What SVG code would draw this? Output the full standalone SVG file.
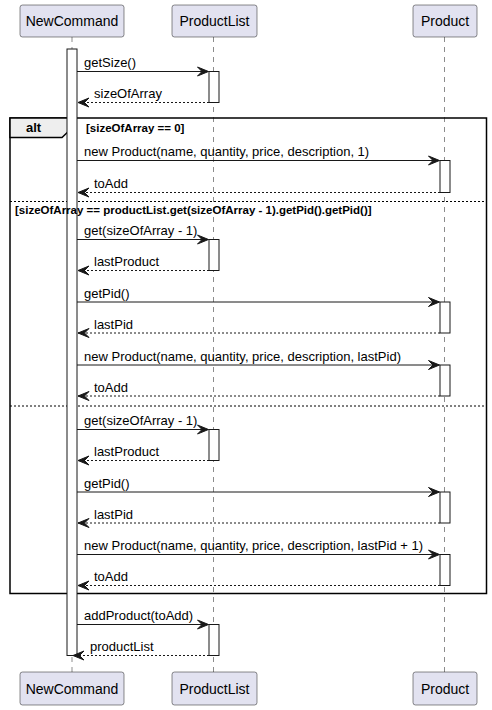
<svg xmlns="http://www.w3.org/2000/svg" width="492" height="710" viewBox="0 0 492 710">
<style>
.part{fill:#E2E2F0;stroke:#181818;stroke-width:0.5}
.ptxt{font-family:"Liberation Sans",Arial,sans-serif;font-size:14px;fill:#000}
.life{stroke:#181818;stroke-width:0.5;stroke-dasharray:5,5;fill:none}
.act{fill:#FFFFFF;stroke:#181818;stroke-width:1}
.msg{stroke:#181818;stroke-width:1;fill:none;marker-end:url(#ah)}
.ret{stroke:#181818;stroke-width:1;fill:none;stroke-dasharray:2,2;marker-end:url(#ah)}
.mtxt{font-family:"Liberation Sans",Arial,sans-serif;font-size:13px;fill:#000}
.frame{fill:none;stroke:#000;stroke-width:1.5}
.sep{stroke:#000;stroke-width:1;stroke-dasharray:2,2}
.btxt{font-family:"Liberation Sans",Arial,sans-serif;font-size:11.5px;font-weight:bold;fill:#000}
</style>
<defs>
<marker id="ah" viewBox="-1 -1 13 11" refX="11" refY="4.5" markerWidth="13" markerHeight="11" markerUnits="userSpaceOnUse" orient="auto">
<path d="M0,0 L11,4.5 L0,9 L4.5,4.5 Z" fill="#181818" stroke="#181818" stroke-width="1" stroke-linejoin="miter"/>
</marker>
</defs>
<g id="lifelines">
<line class="life" x1="72" y1="37" x2="72" y2="672"/>
<line class="life" x1="213.5" y1="37" x2="213.5" y2="672"/>
<line class="life" x1="444.5" y1="37" x2="444.5" y2="672"/>
</g>
<g id="alt-frame">
<rect class="frame" x="10" y="118" width="476.5" height="475.5"/>
<path d="M10,118 L72,118 L72,128 L62,137.5 L10,137.5 Z" fill="#EEEEEE" stroke="#000" stroke-width="1.5"/>
<text class="btxt" x="26" y="132" style="font-size:13px">alt</text>
<line class="sep" x1="10" y1="201.5" x2="486.5" y2="201.5"/>
<line class="sep" x1="10" y1="406" x2="486.5" y2="406"/>
</g>
<g id="activations">
<rect class="act" x="67" y="49" width="10" height="606.5"/>
<rect class="act" x="209" y="71.5" width="10" height="31"/>
<rect class="act" x="440" y="160.5" width="10" height="32"/>
<rect class="act" x="209" y="239.5" width="10" height="31"/>
<rect class="act" x="440" y="302" width="10" height="31"/>
<rect class="act" x="440" y="365" width="10" height="31"/>
<rect class="act" x="209" y="429.5" width="10" height="31"/>
<rect class="act" x="440" y="492" width="10" height="31"/>
<rect class="act" x="440" y="554.5" width="10" height="31"/>
<rect class="act" x="209" y="624.5" width="10" height="31"/>
</g>
<g id="alt-guards">
<text class="btxt" x="86" y="132">[sizeOfArray == 0]</text>
<text class="btxt" x="15" y="214">[sizeOfArray == productList.get(sizeOfArray - 1).getPid().getPid()]</text>
</g>
<g id="connectors">
<line class="msg" x1="77" y1="71.5" x2="208.5" y2="71.5"/>
<text class="mtxt" x="84" y="67">getSize()</text>
<line class="ret" x1="209" y1="102.5" x2="78" y2="102.5"/>
<text class="mtxt" x="94" y="98">sizeOfArray</text>
<line class="msg" x1="77" y1="160.5" x2="439.5" y2="160.5"/>
<text class="mtxt" x="84" y="156">new Product(name, quantity, price, description, 1)</text>
<line class="ret" x1="440" y1="192.5" x2="78" y2="192.5"/>
<text class="mtxt" x="94" y="188">toAdd</text>
<line class="msg" x1="77" y1="239.5" x2="208.5" y2="239.5"/>
<text class="mtxt" x="84" y="235">get(sizeOfArray - 1)</text>
<line class="ret" x1="209" y1="270.5" x2="78" y2="270.5"/>
<text class="mtxt" x="94" y="266">lastProduct</text>
<line class="msg" x1="77" y1="302" x2="439.5" y2="302"/>
<text class="mtxt" x="84" y="297.5">getPid()</text>
<line class="ret" x1="440" y1="333" x2="78" y2="333"/>
<text class="mtxt" x="94" y="328.5">lastPid</text>
<line class="msg" x1="77" y1="365" x2="439.5" y2="365"/>
<text class="mtxt" x="84" y="360.5">new Product(name, quantity, price, description, lastPid)</text>
<line class="ret" x1="440" y1="396" x2="78" y2="396"/>
<text class="mtxt" x="94" y="391.5">toAdd</text>
<line class="msg" x1="77" y1="429.5" x2="208.5" y2="429.5"/>
<text class="mtxt" x="84" y="425">get(sizeOfArray - 1)</text>
<line class="ret" x1="209" y1="460.5" x2="78" y2="460.5"/>
<text class="mtxt" x="94" y="456">lastProduct</text>
<line class="msg" x1="77" y1="492" x2="439.5" y2="492"/>
<text class="mtxt" x="84" y="487.5">getPid()</text>
<line class="ret" x1="440" y1="523" x2="78" y2="523"/>
<text class="mtxt" x="94" y="518.5">lastPid</text>
<line class="msg" x1="77" y1="554.5" x2="439.5" y2="554.5"/>
<text class="mtxt" x="84" y="550">new Product(name, quantity, price, description, lastPid + 1)</text>
<line class="ret" x1="440" y1="585.5" x2="78" y2="585.5"/>
<text class="mtxt" x="94" y="581">toAdd</text>
<line class="msg" x1="77" y1="624.5" x2="208.5" y2="624.5"/>
<text class="mtxt" x="84" y="620">addProduct(toAdd)</text>
<line class="ret" x1="209" y1="655.5" x2="73" y2="655.5"/>
<text class="mtxt" x="90" y="651">productList</text>
</g>
<g id="NewCommand">
<rect class="part" x="20" y="5" width="104" height="32" rx="2.5"/>
<text class="ptxt" x="72" y="26" text-anchor="middle">NewCommand</text>
<rect class="part" x="20" y="672" width="104" height="33" rx="2.5"/>
<text class="ptxt" x="72" y="694" text-anchor="middle">NewCommand</text>
</g>
<g id="ProductList">
<rect class="part" x="172" y="5" width="85" height="32" rx="2.5"/>
<text class="ptxt" x="214.5" y="26" text-anchor="middle">ProductList</text>
<rect class="part" x="172" y="672" width="85" height="33" rx="2.5"/>
<text class="ptxt" x="214.5" y="694" text-anchor="middle">ProductList</text>
</g>
<g id="Product">
<rect class="part" x="413" y="5" width="64" height="32" rx="2.5"/>
<text class="ptxt" x="445" y="26" text-anchor="middle">Product</text>
<rect class="part" x="413" y="672" width="64" height="33" rx="2.5"/>
<text class="ptxt" x="445" y="694" text-anchor="middle">Product</text>
</g>
</svg>
